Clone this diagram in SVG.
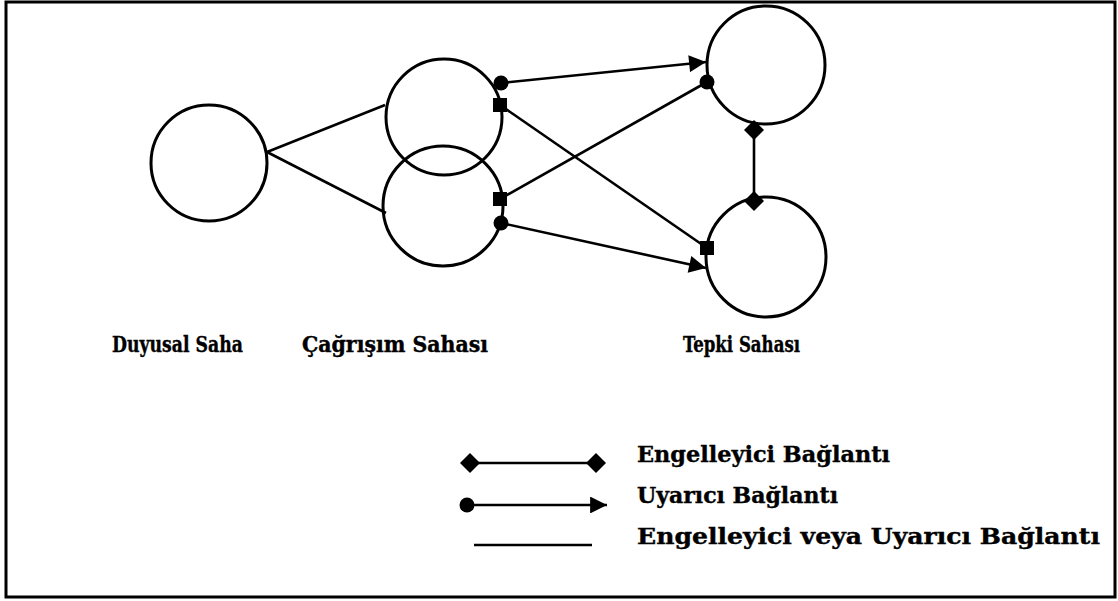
<svg xmlns="http://www.w3.org/2000/svg" width="1118" height="601" viewBox="0 0 1118 601">
  <style>
    .node { fill: none; stroke: #000; stroke-width: 3; }
    .edge { fill: none; stroke: #000; stroke-width: 2.6; }
    .lbl { font-family: "DejaVu Serif", "Liberation Serif", serif; font-weight: bold; font-size: 23px; fill: #000; stroke: #000; stroke-width: 0.4; }
    .cap { font-family: "DejaVu Serif Condensed", "DejaVu Serif", serif; font-weight: bold; font-size: 23px; fill: #000; stroke: #000; stroke-width: 0.4; }
    .mk { fill: #000; }
  </style>
  <defs>
    <marker id="arrow" viewBox="0 0 10 10" refX="10" refY="5" markerWidth="7.5" markerHeight="6.5" markerUnits="strokeWidth" orient="auto">
      <path d="M0,0 L10,5 L0,10 Z" class="mk"/>
    </marker>
  </defs>

  <rect x="6" y="2" width="1109" height="595" fill="#fff" stroke="#000" stroke-width="3"/>

  <!-- areas -->
  <g id="duyusal"><circle class="node" cx="209" cy="163" r="58"/></g>
  <g id="cagrisim-ust"><circle class="node" cx="444" cy="117" r="58"/></g>
  <g id="cagrisim-alt"><circle class="node" cx="443" cy="206" r="60"/></g>
  <g id="tepki-ust"><circle class="node" cx="766" cy="65" r="59"/></g>
  <g id="tepki-alt"><circle class="node" cx="766" cy="257" r="60"/></g>

  <!-- connections -->
  <g id="connectors">
    <line class="edge" x1="267" y1="152" x2="385" y2="105"/>
    <line class="edge" x1="267" y1="152" x2="386" y2="213"/>

    <!-- excitatory -->
    <line class="edge" x1="501" y1="83" x2="706" y2="62" marker-end="url(#arrow)"/>
    <circle class="mk" cx="501" cy="83" r="7.5"/>
    <line class="edge" x1="501" y1="223" x2="706" y2="268" marker-end="url(#arrow)"/>
    <circle class="mk" cx="501" cy="223" r="7.5"/>

    <!-- crossing -->
    <line class="edge" x1="500" y1="105" x2="707" y2="248"/>
    <rect class="mk" x="493" y="98" width="14" height="14"/>
    <rect class="mk" x="700" y="241" width="14" height="14"/>
    <line class="edge" x1="500" y1="199" x2="707" y2="82"/>
    <rect class="mk" x="493" y="192" width="14" height="14"/>
    <circle class="mk" cx="707" cy="82" r="7.5"/>

    <!-- inhibitory -->
    <line class="edge" x1="754" y1="130" x2="754" y2="201"/>
    <path class="mk" d="M754,120 L764,130 L754,140 L744,130 Z"/>
    <path class="mk" d="M754,191 L764,201 L754,211 L744,201 Z"/>
  </g>

  <!-- area captions -->
  <text class="cap" x="112" y="352" textLength="131" lengthAdjust="spacingAndGlyphs">Duyusal Saha</text>
  <text class="cap" x="302" y="352" textLength="186" lengthAdjust="spacingAndGlyphs">Çağrışım Sahası</text>
  <text class="cap" x="683" y="352" textLength="117" lengthAdjust="spacingAndGlyphs">Tepki Sahası</text>

  <!-- legend -->
  <g id="legend">
    <line class="edge" x1="470" y1="463" x2="596" y2="463"/>
    <path class="mk" d="M460,463 L470,453 L480,463 L470,473 Z"/>
    <path class="mk" d="M586,463 L596,453 L606,463 L596,473 Z"/>

    <line class="edge" x1="467" y1="505" x2="607" y2="505" marker-end="url(#arrow)"/>
    <circle class="mk" cx="467" cy="505" r="7.5"/>

    <line class="edge" x1="474" y1="545" x2="592" y2="545"/>

    <text class="lbl" x="637" y="462" textLength="253" lengthAdjust="spacingAndGlyphs">Engelleyici Bağlantı</text>
    <text class="lbl" x="637" y="503" textLength="201" lengthAdjust="spacingAndGlyphs">Uyarıcı Bağlantı</text>
    <text class="lbl" x="637" y="544" textLength="463" lengthAdjust="spacingAndGlyphs">Engelleyici veya Uyarıcı Bağlantı</text>
  </g>
</svg>
